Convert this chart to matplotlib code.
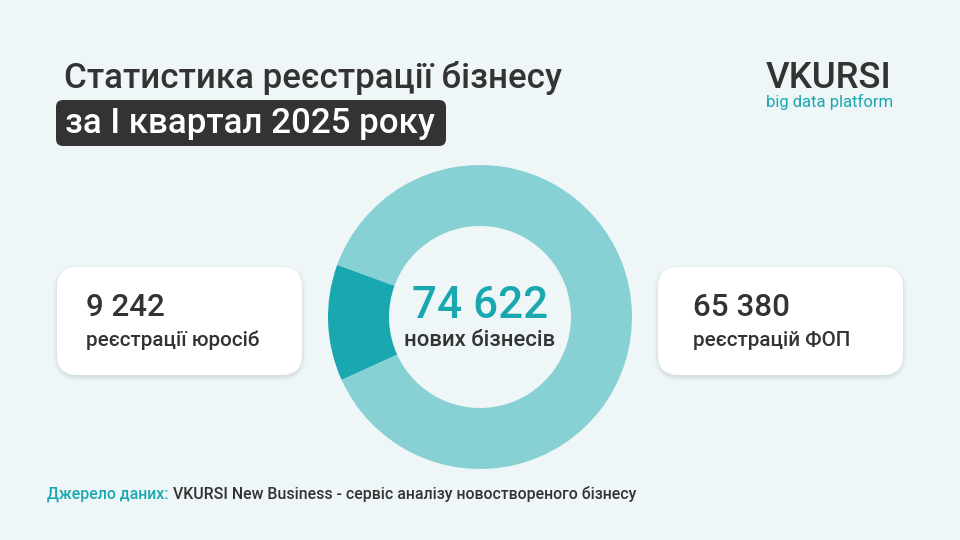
import matplotlib
matplotlib.use("Agg")
import matplotlib.pyplot as plt
from matplotlib.patches import FancyBboxPatch

# ---- data ----
categories = ["реєстрації юросіб", "реєстрацій ФОП"]
values = [9242, 65380]
total = 74622
total_label = "нових бізнесів"
title_line1 = "Статистика реєстрації бізнесу"
title_line2 = "за I квартал 2025 року"
brand = "VKURSI"
brand_sub = "big data platform"
source_label = "Джерело даних:"
source_text = "VKURSI New Business - сервіс аналізу новоствореного бізнесу"

BG = "#eef6f8"
DARK = "#333333"
TEAL = "#1aa8b0"
LIGHT_TEAL = "#87d0d3"

plt.rcParams['font.family'] = ['Roboto', 'DejaVu Sans']

def fmt(n):
    return f"{n:,}".replace(",", " ")

fig = plt.figure(figsize=(9.6, 5.4), dpi=100, facecolor=BG)
ax = fig.add_axes([0, 0, 1, 1])
ax.set_xlim(0, 960)
ax.set_ylim(540, 0)
ax.axis("off")
ax.set_facecolor(BG)

renderer = fig.canvas.get_renderer()

def fit_text(x, y, s, target_w, size0, **kw):
    t = ax.text(x, y, s, fontsize=size0, **kw)
    bb = t.get_window_extent(renderer=renderer)
    if bb.width > 0:
        t.set_fontsize(size0 * target_w / bb.width)
    return t

# ---- title ----
fit_text(64, 78, title_line1, 498, 26, color=DARK, fontweight="medium", va="center", ha="left")
box = FancyBboxPatch((56, 100), 390, 46, boxstyle="round,pad=0,rounding_size=7",
                     facecolor=DARK, edgecolor="none")
ax.add_patch(box)
fit_text(65, 123, title_line2, 371, 26, color="white", fontweight="medium", va="center", ha="left")

# ---- brand ----
fit_text(766, 78, brand, 126, 24, color=DARK, fontweight="medium", va="center", ha="left")
fit_text(766, 102, brand_sub, 127, 12, color=TEAL, va="center", ha="left")

# ---- cards ----
def card(x0, y0, w, h):
    for i, a in enumerate([0.02, 0.025, 0.03, 0.035, 0.04]):
        off = 5 - i
        sh = FancyBboxPatch((x0 - off + 1, y0 - off + 3), w + 2 * off - 2, h + 2 * off - 2,
                            boxstyle=f"round,pad=0,rounding_size={20 + off}",
                            facecolor="#4a6a70", edgecolor="none", alpha=a)
        ax.add_patch(sh)
    p = FancyBboxPatch((x0, y0), w, h, boxstyle="round,pad=0,rounding_size=20",
                       facecolor="white", edgecolor="none")
    ax.add_patch(p)

card(57, 267, 245, 108)
card(658, 267, 245, 108)

fit_text(86, 307, fmt(values[0]), 79, 24, color=DARK, fontweight="medium", va="center", ha="left")
fit_text(86, 340, categories[0], 174, 14, color=DARK, fontweight="medium", va="center", ha="left")
fit_text(693, 307, fmt(values[1]), 97, 24, color=DARK, fontweight="medium", va="center", ha="left")
fit_text(693, 340, categories[1], 158, 14, color=DARK, fontweight="medium", va="center", ha="left")

# ---- donut ----
cx, cy, r = 480, 317, 152
pax = fig.add_axes([(cx - r) / 960, (540 - cy - r) / 540, 2 * r / 960, 2 * r / 540])
share = values[0] / sum(values) * 360
start = 180 - share / 2 + 2.2
pax.pie(values, colors=[TEAL, LIGHT_TEAL], startangle=start, counterclock=True,
        radius=1, wedgeprops=dict(width=61 / 152, edgecolor="none", linewidth=0))
pax.set_xlim(-1, 1)
pax.set_ylim(-1, 1)
pax.set_aspect("equal")
pax.axis("off")

fit_text(480, 306, fmt(total), 136, 34, color=TEAL, fontweight="medium", va="center", ha="center")
fit_text(480, 340, total_label, 152, 15, color=DARK, fontweight="medium", va="center", ha="center")

# ---- source ----
t1 = fit_text(47, 494, source_label, 121, 11, color=TEAL, fontweight="medium", va="center", ha="left")
fs = t1.get_fontsize()
t2 = ax.text(173, 494, source_text, fontsize=fs, color=DARK, fontweight="medium", va="center", ha="left")

fig.savefig("out.png", dpi=100, facecolor=BG)
